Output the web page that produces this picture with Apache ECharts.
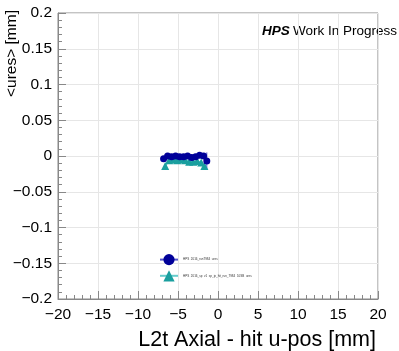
<!DOCTYPE html>
<html><head><meta charset="utf-8">
<script src="https://cdn.jsdelivr.net/npm/echarts@6/dist/echarts.min.js"></script>
<style>html,body{margin:0;padding:0;background:#fff}#c{width:399px;height:351px}</style>
</head><body><div id="c"></div>
<script>
var xTicks = [-20,-15,-10,-5,0,5,10,15,20];
var yTicks = [-0.2,-0.15,-0.1,-0.05,0,0.05,0.1,0.15,0.2];
var seriesNames = ['HPS_2016_run7984_ures', 'HPS_2016_sp_v1_sp_ip_hit_run_7984_10SB_ures'];
var blueX = [-6.8,-6.3,-5.8,-5.3,-4.8,-4.3,-3.8,-3.3,-2.8,-2.3,-1.8,-1.4];
var blueY = [-0.004,0.000,-0.001,0.000,-0.001,-0.001,0.000,-0.002,-0.001,0.001,0.000,-0.007];
var blueErr = [0.002,0.002,0.002,0.002,0.002,0.002,0.002,0.002,0.002,0.002,0.003,0.012];
var cyanX = [-6.6,-6.1,-5.6,-5.1,-4.6,-4.1,-3.6,-3.1,-2.6,-2.1,-1.7];
var cyanY = [-0.014,-0.006,-0.005,-0.006,-0.005,-0.006,-0.008,-0.008,-0.007,-0.009,-0.014];
var cyanErr = [0.003,0.002,0.002,0.002,0.002,0.002,0.002,0.002,0.002,0.002,0.004];

var FONT = 'Liberation Sans, Arial, Helvetica, sans-serif';
var BLUE = '#000099', BLUEL = '#5555cc', CYAN = '#1a9f9f', CYANL = '#66cccc';
function fmt(v){ var s = (Math.round(v*1000)/1000).toString(); return s.replace('-', '\u2212'); }
function pairs(xs, ys){ return xs.map(function(x,i){return [x, ys[i]];}); }
function errData(xs, ys, es){ return xs.map(function(x,i){return [x, ys[i]-es[i], ys[i]+es[i]];}); }
function errSeries(data, color){
  return {type:'custom', silent:true, z:1, data:data, encode:{x:0,y:[1,2]},
    renderItem:function(params, api){
      var lo = api.coord([api.value(0), api.value(1)]);
      var hi = api.coord([api.value(0), api.value(2)]);
      return {type:'line', shape:{x1:lo[0],y1:lo[1],x2:hi[0],y2:hi[1]}, style:{stroke:color, lineWidth:1}};
    }};
}
var chart = echarts.init(document.getElementById('c'), null, {renderer:'canvas'});
chart.setOption({
  animation:false,
  backgroundColor:'#fff',
  grid:{left:58, right:21, top:13, bottom:52, show:true, borderColor:'#888', borderWidth:1},
  xAxis:{type:'value', min:-20, max:20, interval:5,
    axisLine:{onZero:false, lineStyle:{color:'#888'}},
    axisTick:{inside:true, length:8, lineStyle:{color:'#888'}},
    minorTick:{show:true, splitNumber:5, length:4, lineStyle:{color:'#888'}},
    splitLine:{show:true, lineStyle:{color:'#e6e6e6'}},
    axisLabel:{fontFamily:FONT, fontSize:15.5, color:'#000', margin:8, formatter:function(v){return fmt(v);}}
  },
  yAxis:{type:'value', min:-0.2, max:0.2, interval:0.05,
    axisLine:{show:true, onZero:false, lineStyle:{color:'#888'}},
    axisTick:{show:true, inside:true, length:8, lineStyle:{color:'#888'}},
    minorTick:{show:true, splitNumber:5, length:4, lineStyle:{color:'#888'}},
    splitLine:{show:true, lineStyle:{color:'#e6e6e6'}},
    axisLabel:{fontFamily:FONT, fontSize:15.5, color:'#000', margin:6, formatter:function(v){return fmt(v);}}
  },
  legend:{orient:'vertical', left:154, top:249, itemGap:5, itemWidth:18, itemHeight:14,
    textStyle:{fontFamily:FONT, fontSize:3, color:'#333'},
    data:[{name:seriesNames[0]},{name:seriesNames[1]}]},
  graphic:[
    {type:'text', left:262, top:24, style:{
      text:'{b|HPS} {n|Work In Progress}',
      rich:{b:{fontFamily:FONT, fontSize:13.5, fontWeight:'bold', fontStyle:'italic', fill:'#000'},
            n:{fontFamily:FONT, fontSize:13.5, fill:'#000'}}}},
    {type:'text', x:12, y:10, rotation:Math.PI/2, style:{text:'<ures> [mm]', fontFamily:FONT, fontSize:15.5, fill:'#000', align:'right', verticalAlign:'middle'}},
    {type:'text', x:376, y:340, style:{text:'L2t Axial - hit u-pos [mm]', fontFamily:FONT, fontSize:21.5, fill:'#000', align:'right', verticalAlign:'middle'}}
  ],
  series:[
    errSeries(errData(blueX, blueY, blueErr), BLUEL),
    errSeries(errData(cyanX, cyanY, cyanErr), CYANL),
    {name:seriesNames[0], type:'line', data:pairs(blueX, blueY), symbol:'circle', symbolSize:7, z:3,
      itemStyle:{color:BLUE}, lineStyle:{color:BLUEL, width:1.5}},
    {name:seriesNames[1], type:'line', data:pairs(cyanX, cyanY), symbol:'triangle', symbolSize:8, z:2,
      itemStyle:{color:CYAN}, lineStyle:{color:CYANL, width:1.5}}
  ]
});
</script></body></html>
